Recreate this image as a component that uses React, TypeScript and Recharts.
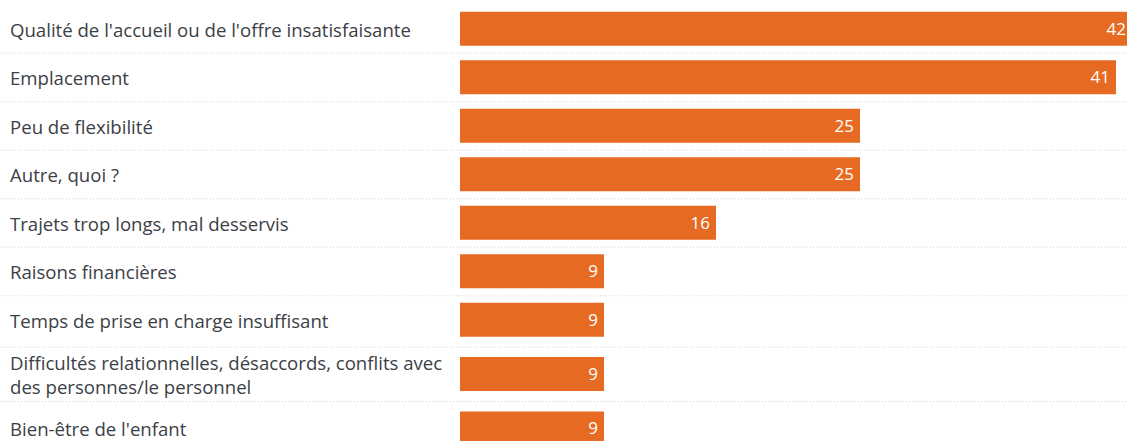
import { Bar, BarChart, LabelList, XAxis, YAxis } from "recharts";

const reasons = [
  "Qualité de l'accueil ou de l'offre insatisfaisante",
  "Emplacement",
  "Peu de flexibilité",
  "Autre, quoi ?",
  "Trajets trop longs, mal desservis",
  "Raisons financières",
  "Temps de prise en charge insuffisant",
  "Difficultés relationnelles, désaccords, conflits avec\ndes personnes/le personnel",
  "Bien-être de l'enfant",
];

const counts = [42, 41, 25, 25, 16, 9, 9, 9, 9];

// two-line labels get a slightly taller row
const weights = reasons.map((r) => (r.includes("\n") ? 1.24 : 1));
const positions: number[] = [];
weights.forEach((w, i) => {
  positions.push(i === 0 ? 0 : positions[i - 1] + (weights[i - 1] + w) / 2);
});

const data = reasons.map((label, i) => ({ label, value: counts[i], pos: positions[i] }));

const ORANGE = "#e66a22";
const TEXT = "#3b4046";
const UNIT = 48.5; // px per row unit
const TOP = -0.598;
const BOTTOM = TOP + 441 / UNIT;

function ReasonTick(props: any) {
  const { y, payload } = props;
  const idx = positions.findIndex((p) => Math.abs(p - payload.value) < 1e-6);
  if (idx < 0) return null;
  const lines = reasons[idx].split("\n");
  const lh = 24.5;
  const start = y - ((lines.length - 1) * lh) / 2;
  const sepY = idx > 0 ? y - ((positions[idx] - positions[idx - 1]) / 2) * UNIT : null;
  return (
    <g>
      {sepY !== null && (
        <line x1={0} x2={1140} y1={sepY} y2={sepY} stroke="#d4d4d4" strokeDasharray="1 2" />
      )}
      {lines.map((l, i) => (
        <text
          key={i}
          x={10}
          y={start + i * lh}
          fill={TEXT}
          fontSize={18.6}
          textAnchor="start"
          dominantBaseline="central"
        >
          {l}
        </text>
      ))}
    </g>
  );
}

export default function App() {
  return (
    <div
      style={{
        position: "absolute",
        left: 0,
        top: 0,
        width: 1127,
        height: 441,
        overflow: "hidden",
        background: "#fff",
        fontFamily: "'Open Sans', sans-serif",
      }}
    >
      <BarChart
        width={1132}
        height={441}
        data={data}
        layout="vertical"
        margin={{ top: 0, right: 0, bottom: 0, left: 0 }}
      >
        <XAxis type="number" domain={[0, 42]} hide />
        <YAxis
          type="number"
          dataKey="pos"
          domain={[TOP, BOTTOM]}
          ticks={positions}
          allowDataOverflow
          width={460}
          axisLine={false}
          tickLine={false}
          interval={0}
          tick={<ReasonTick />}
        />
        <Bar dataKey="value" fill={ORANGE} barSize={34} isAnimationActive={false}>
          <LabelList
            dataKey="value"
            position="insideRight"
            offset={6}
            fill="#ffffff"
            fontSize={17}
          />
        </Bar>
      </BarChart>
    </div>
  );
}
